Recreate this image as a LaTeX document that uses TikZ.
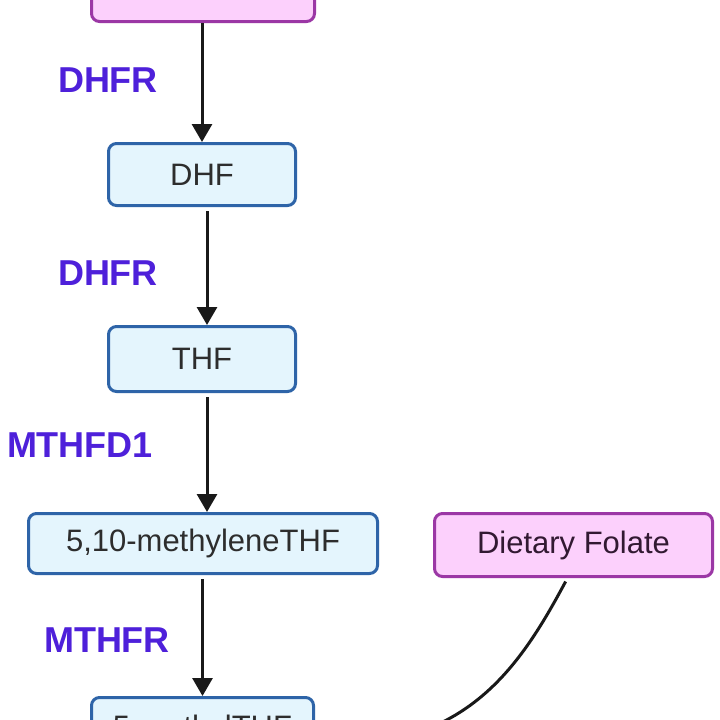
\documentclass[tikz,border=0pt]{standalone}
\usepackage{fontspec}
\setmainfont{Liberation Sans}
\usetikzlibrary{arrows.meta,calc}
\definecolor{bfill}{RGB}{228,245,253}
\definecolor{bdraw}{RGB}{46,100,168}
\definecolor{pfill}{RGB}{252,208,252}
\definecolor{pdraw}{RGB}{155,55,165}
\definecolor{labcol}{RGB}{78,32,218}
\definecolor{txt}{RGB}{45,45,45}
\definecolor{ptxt}{RGB}{50,25,50}
\begin{document}
\begin{tikzpicture}[x=1pt,y=-1pt,
  bluebox/.style={draw=bdraw,fill=bfill,line width=3pt,rounded corners=8pt,inner sep=0pt,
    text=txt,font=\fontsize{31}{36}\selectfont},
  pinkbox/.style={draw=pdraw,fill=pfill,line width=3pt,rounded corners=8pt,inner sep=0pt,
    text=ptxt,font=\fontsize{31}{36}\selectfont},
  enz/.style={text=labcol,font=\bfseries\fontsize{36}{40}\selectfont,inner sep=0pt},
  conn/.style={line width=3pt,black!90,-{Triangle[width=20pt,length=18pt]}}]
\useasboundingbox (0,0) rectangle (720,720);
\fill[white] (0,0) rectangle (720,720);
\clip (0,0) rectangle (720,720);
% nodes
\node[pinkbox,minimum width=223pt,minimum height=63pt] (src) at (203,-10) {};
\node[bluebox,minimum width=187pt,minimum height=62pt] (dhf) at (202,174.5) {DHF};
\node[bluebox,minimum width=187pt,minimum height=65pt] (thf) at (202,359) {THF};
\node[bluebox,minimum width=349pt,minimum height=60pt] (mthf) at (203,543.5) {5,10-methyleneTHF};
\node[pinkbox,minimum width=278pt,minimum height=63pt] (diet) at (573.5,545) {Dietary Folate};
\node[bluebox,minimum width=222pt,minimum height=63pt] (meth) at (202.5,729) {5-methylTHF};
% enzyme labels
\node[enz] (e1) at (108,80.5) {DHFR};
\node[enz] (e2) at (108,273) {DHFR};
\node[enz] (e3) at (80,445) {MTHFD1};
\node[enz] (e4) at (107,640) {MTHFR};
% connectors
\draw[conn] (src.south -| dhf.north) -- (dhf.north);
\draw[conn,shorten <=4pt] ([xshift=5pt]dhf.south) -- ([xshift=5pt]thf.north);
\draw[conn,shorten <=4pt] ([xshift=5pt]thf.south) -- ([xshift=5pt]thf.south |- mthf.north);
\draw[conn,shorten <=4pt] (meth.north |- mthf.south) -- (meth.north);
\draw[conn,shorten <=4pt] ([xshift=-6pt]diet.south) .. controls +(-47,88) and +(150,0) .. ([xshift=3pt,yshift=-16pt]meth.east);
\end{tikzpicture}
\end{document}
